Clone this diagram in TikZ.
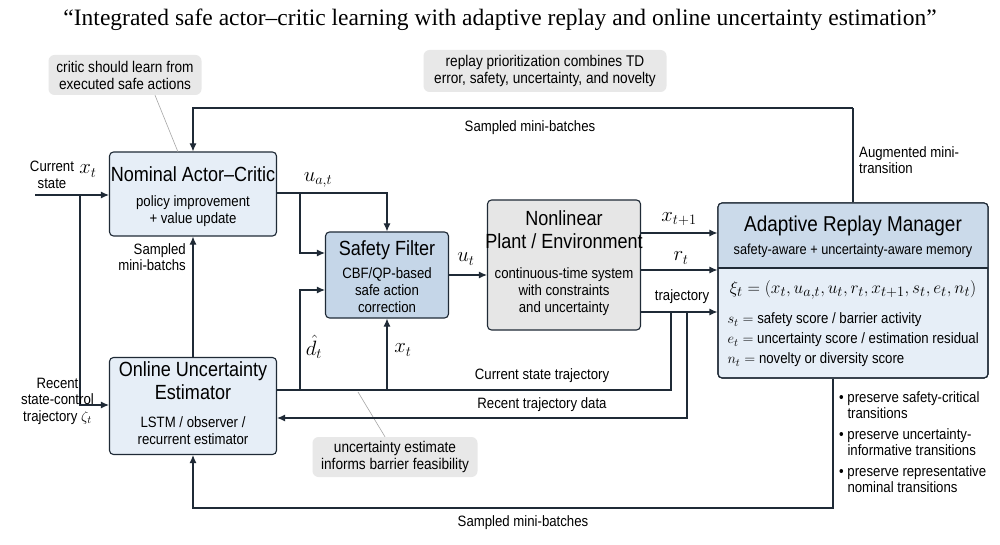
\documentclass[tikz,border=0pt]{standalone}
\usepackage{fontspec}
\setmainfont{Liberation Sans}[FakeStretch=0.88]
\newfontfamily\titlefont{Liberation Serif}
\usetikzlibrary{arrows.meta}
\definecolor{boxblue}{HTML}{E6EEF7}
\definecolor{filterblue}{HTML}{C5D6E8}
\definecolor{headblue}{HTML}{CBDAEA}
\definecolor{plantgray}{HTML}{E6E6E6}
\definecolor{callgray}{HTML}{E8E8E8}
\definecolor{edge}{HTML}{1F2A36}
\begin{document}
\begin{tikzpicture}[x=1pt,y=-1pt,
  blk/.style={draw=edge,line width=1.1pt,rounded corners=4pt,align=center,inner sep=0pt},
  call/.style={fill=callgray,rounded corners=6pt,align=center,font=\fontsize{15.5}{17}\selectfont,inner sep=0pt},
  arr/.style={draw=edge,line width=1.1pt,-{Latex[length=8pt,width=7pt]}},
  ln/.style={draw=edge,line width=1.1pt},
  ptr/.style={draw=gray!70,line width=0.6pt},
  lbl/.style={font=\fontsize{15}{16.5}\selectfont,align=center,inner sep=1pt},
  mth/.style={font=\fontsize{20}{20}\selectfont,inner sep=1pt},
  ttl/.style={font=\fontsize{20.5}{23}\selectfont},
  sub/.style={font=\fontsize{15}{17}\selectfont}]
\useasboundingbox (0,0) rectangle (1000,545);
\fill[white] (0,0) rectangle (1000,545);
\node (title) at (500,20) {\titlefont\fontsize{23.5}{26}\selectfont “Integrated safe actor–critic learning with adaptive replay and online uncertainty estimation”};

% blocks
\node[blk,fill=boxblue,minimum width=167pt,minimum height=84pt] (ac) at (193,194) {};
\node[ttl] at (193,174) {Nominal Actor--Critic};
\node[sub,align=center] at (193,211) {policy improvement\\+ value update};

\node[blk,fill=boxblue,minimum width=167pt,minimum height=97pt] (ue) at (193,406) {};
\node[ttl,align=center] at (193,381) {Online Uncertainty\\Estimator};
\node[sub,align=center] at (193,431) {LSTM / observer /\\recurrent estimator};

\node[blk,fill=filterblue,minimum width=123pt,minimum height=86pt] (sf) at (387,275) {};
\node[ttl] at (387,250) {Safety Filter};
\node[sub,align=center] at (387,290) {CBF/QP-based\\safe action\\correction};

\node[blk,fill=plantgray,minimum width=153pt,minimum height=130pt] (pl) at (564,265) {};
\node[ttl,align=center] at (564,230) {Nonlinear\\Plant / Environment};
\node[sub,align=center] at (564,292) {continuous-time system\\with constraints\\and uncertainty};

\node[blk,fill=boxblue,minimum width=270pt,minimum height=175pt] (rm) at (853,290.5) {};
\begin{scope}
\clip[rounded corners=4pt] (718,203) rectangle (988,378);
\fill[headblue] (718,203) rectangle (988,268);
\end{scope}
\draw[ln] (718,268) -- (988,268);
\draw[draw=edge,line width=1.1pt,rounded corners=4pt] (718,203) rectangle (988,378);
\node[font=\fontsize{21.5}{24}\selectfont] at (853,226) {Adaptive Replay Manager};
\node[font=\fontsize{14.5}{16}\selectfont] at (853,251) {safety-aware + uncertainty-aware memory};
\node[font=\fontsize{19}{20}\selectfont] at (853,290) {$\xi_t=(x_t,u_{a,t},u_t,r_t,x_{t+1},s_t,e_t,n_t)$};
\node[font=\fontsize{15}{20}\selectfont,anchor=west,align=left] at (724,340) {$s_t = $ safety score / barrier activity\\$e_t = $ uncertainty score / estimation residual\\$n_t = $ novelty or diversity score};

% callouts
\node[call,minimum width=153pt,minimum height=40pt] (c1) at (125,75) {critic should learn from\\executed safe actions};
\node[call,minimum width=243pt,minimum height=42pt] (c2) at (545,71) {replay prioritization combines TD\\error, safety, uncertainty, and novelty};
\node[call,minimum width=165pt,minimum height=40pt] (c3) at (395,457) {uncertainty estimate\\informs barrier feasibility};
\draw[ptr] (c1.south)++(30,0) -- (178,152);
\draw[ptr] (c3.north)++(-10,0) -- (358,392);

% inputs
\node[lbl] (cs) at (52,175) {Current\\state};
\node[mth] at (88,171) {$x_t$};
\coordinate (in1) at (35,195);
\draw[arr] (in1) -- (ac.west|-in1);
\draw[arr] (80,195) -- (80,405) -- (ue.west|-0,405);
\node[lbl,anchor=east] (rt) at (95,401) {Recent\\state-control\\trajectory $\zeta_t$};

% top loop
\coordinate (tl) at (853,108);
\draw[ln] (rm.north-|tl) -- (tl);
\draw[arr] (tl) -- (193,108) -- (ac.north);
\node[lbl] at (530,128) {Sampled mini-batches};
\node[lbl,align=left,anchor=west] at (858,160) {Augmented mini-\\transition};

% estimator -> actor
\draw[arr] (ue.north) -- (ac.south);
\node[lbl,align=right,anchor=east] at (187,257) {Sampled\\mini-batchs};

% actor -> filter
\draw[arr] (ac.east|-0,193) -- (387,193) -- (sf.north);
\draw[arr] (300,193) -- (300,253) -- (sf.west|-0,253);
\node[mth] at (318,180) {$u_{a,t}$};

% estimator line, d hat and x_t
\draw[ln] (ue.east|-0,390) -- (671,390) -- (671,312);
\draw[arr] (300,390) -- (300,290) -- (sf.west|-0,290);
\draw[arr] (387,390) -- (sf.south);
\node[mth] at (314,347) {$\hat d_t$};
\node[mth] at (403,350) {$x_t$};
\node[lbl] at (542,376) {Current state trajectory};
\draw[arr] (687,312) -- (687,418) -- (ue.east|-0,418);
\node[lbl] at (542,405) {Recent trajectory data};

% filter -> plant
\draw[arr] (sf.east|-0,275) -- (pl.west|-0,275);
\node[mth] at (466,259) {$u_t$};

% plant -> replay
\draw[arr] (pl.east|-0,233) -- (rm.west|-0,233);
\draw[arr] (pl.east|-0,270) -- (rm.west|-0,270);
\draw[arr] (pl.east|-0,312) -- (rm.west|-0,312);
\node[mth] at (679,219) {$x_{t+1}$};
\node[mth] at (681,258) {$r_t$};
\node[lbl] at (682,297) {trajectory};

% bottom loop
\coordinate (bl) at (833,508);
\draw[arr] (rm.south-|bl) -- (bl) -- (193,508) -- (ue.south);
\node[lbl] at (523,523) {Sampled mini-batches};

% bullets
\node[lbl,anchor=north west,align=left] (bul) at (838,390) {%
\textbullet\ preserve safety-critical\\\phantom{\textbullet\ }transitions\\[4pt]
\textbullet\ preserve uncertainty-\\\phantom{\textbullet\ }informative transitions\\[4pt]
\textbullet\ preserve representative\\\phantom{\textbullet\ }nominal transitions};
\end{tikzpicture}
\end{document}
